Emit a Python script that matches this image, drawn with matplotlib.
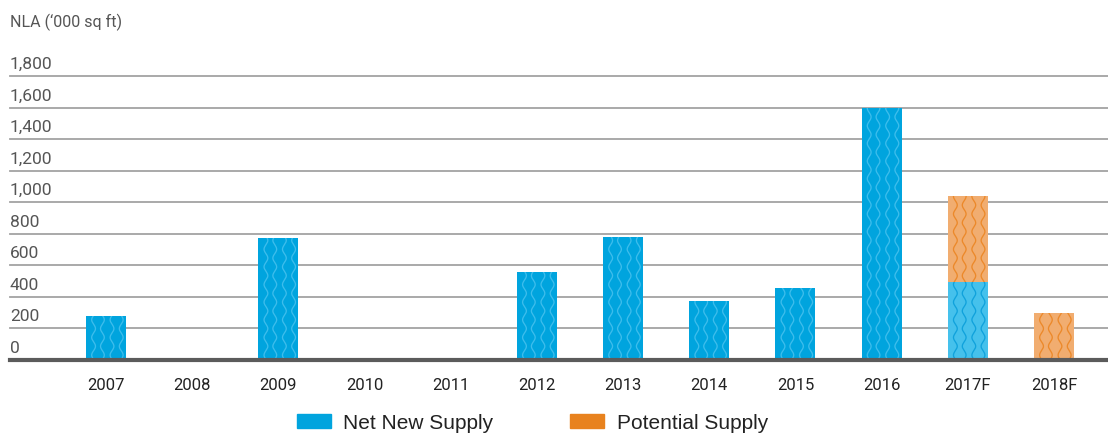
import numpy as np
import matplotlib
matplotlib.use("Agg")
import matplotlib.pyplot as plt
import matplotlib.patches as mpatches

years = ['2007', '2008', '2009', '2010', '2011', '2012', '2013',
         '2014', '2015', '2016', '2017F', '2018F']
net_new = [275, 0, 770, 0, 0, 555, 775, 370, 455, 1600, 490, 0]
potential = [0, 0, 0, 0, 0, 0, 0, 0, 0, 0, 545, 295]
yticks = [0, 200, 400, 600, 800, 1000, 1200, 1400, 1600, 1800]

BLUE = '#00a4de'
BLUE_WAVE = '#3dbdec'
BLUE_LIGHT = '#45c1ec'
BLUE_LIGHT_WAVE = '#10a2dc'
ORANGE = '#f1ad70'
ORANGE_WAVE = '#ec892a'
ORANGE_KEY = '#e8821e'

plt.rcParams['font.family'] = ['Roboto', 'DejaVu Sans']


# vertical wavy lines inside a bar, clipped to the bar outline
def add_waves(ax, rect, colour):
    x0, w = rect.get_x(), rect.get_width()
    y0, h = rect.get_y(), rect.get_height()
    if h <= 0:
        return
    y = np.linspace(y0, y0 + h, 300)
    for i, f in enumerate([0.19, 0.41, 0.65, 0.88]):
        sign = 1 if i % 2 == 0 else -1
        x = x0 + f * w - sign * 0.022 * np.sin(2 * np.pi * y / 112.0)
        line, = ax.plot(x, y, color=colour, lw=0.95, zorder=3)
        line.set_clip_path(rect)


fig = plt.figure(figsize=(11.08, 4.33), dpi=100)
ax = fig.add_axes([10 / 1108, 1 - 359.5 / 433, 1 - 10 / 1108, (359.5 - 76) / 433])

x = np.arange(len(years))
blue_cols = [BLUE_LIGHT if y.endswith('F') else BLUE for y in years]
wave_cols = [BLUE_LIGHT_WAVE if y.endswith('F') else BLUE_WAVE for y in years]

bars1 = ax.bar(x, net_new, width=0.465, color=blue_cols, zorder=2)
bars2 = ax.bar(x, potential, width=0.465, bottom=net_new, color=ORANGE, zorder=2)
for rect, wc in zip(bars1, wave_cols):
    add_waves(ax, rect, wc)
for rect in bars2:
    add_waves(ax, rect, ORANGE_WAVE)

ax.set_xlim(-1.114, 11.627)
ax.set_ylim(0, 1800)

# grid lines with labels sitting just above them
for v in yticks[1:]:
    ax.axhline(v, color='#a3a3a3', lw=1.3, zorder=1, clip_on=False)
for v in yticks:
    ax.annotate(f'{v:,}', xy=(0, v), xycoords=('axes fraction', 'data'),
                xytext=(0, 5), textcoords='offset points', ha='left',
                va='baseline', fontsize=12.5, color='#555555')
ax.axhline(0, color='#5b5b5b', lw=3, zorder=4, clip_on=False)

for s in ax.spines.values():
    s.set_visible(False)
ax.set_yticks([])
ax.set_xticks(x)
ax.set_xticklabels(years, fontsize=12, color='#222222')
ax.tick_params(axis='x', length=0, pad=13)

fig.text(10 / 1108, 1 - 27 / 433, 'NLA (\u2018000 sq ft)', fontsize=11.5,
         color='#555555', ha='left', va='baseline')

handles = [mpatches.Patch(color=BLUE, label='Net New Supply'),
           mpatches.Patch(color=ORANGE_KEY, label='Potential Supply')]
fig.legend(handles=handles, loc='center', bbox_to_anchor=(0.4806, 0.023),
           ncol=2, frameon=False, handlelength=1.63, handleheight=0.63,
           handletextpad=0.58, columnspacing=3.7, labelcolor='#222222',
           borderpad=0, borderaxespad=0,
           prop={'family': ['Liberation Sans', 'DejaVu Sans'], 'size': 15})

fig.savefig('out.png', dpi=100)
